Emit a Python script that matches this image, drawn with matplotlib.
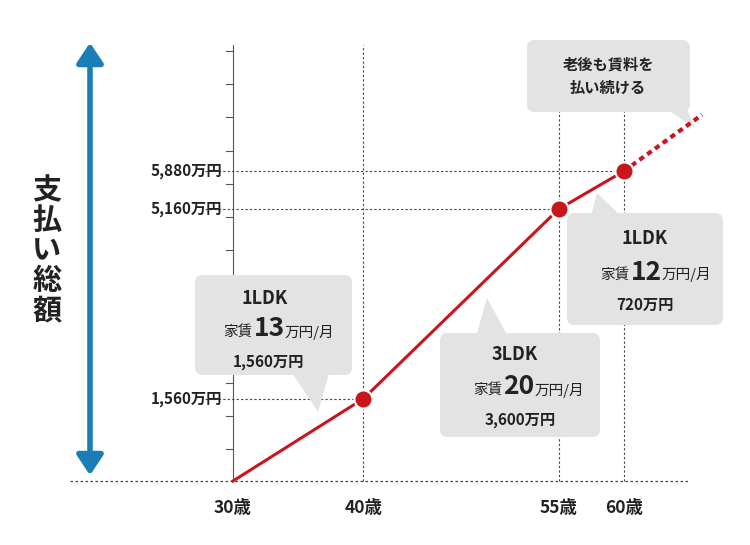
import matplotlib
matplotlib.use("Agg")
import matplotlib.pyplot as plt
from matplotlib.patches import FancyBboxPatch, Polygon, FancyArrowPatch

plt.rcParams['font.family'] = ['Noto Sans CJK JP', 'DejaVu Sans']

# --- Daten ---
ages = [30, 40, 55, 60]
totals = [0, 1560, 5160, 5880]          # 万円
future_age = 66
future_total = 6950
age_labels = ["30歳", "40歳", "55歳", "60歳"]
total_labels = ["1,560万円", "5,160万円", "5,880万円"]

RED = "#c8161d"
BOX = "#e3e3e3"
BLUE = "#1a7db5"

W, H = 750, 545
fig = plt.figure(figsize=(W / 100, H / 100), dpi=100)
ax = fig.add_axes([0, 0, 1, 1])
ax.set_xlim(12.12, 69.68)
ax.set_ylim(-1214, 9127)
ax.axis("off")


def px(x):
    return 12.12 + x / W * (69.68 - 12.12)


def py(y):
    return 9127 - y / H * (9127 + 1214)


# Achsen
ax.plot([30, 30], [0, py(45)], color="#555", lw=0.8)
ax.plot([px(70), px(690)], [0, 0], color="#444", lw=0.9, ls=(0, (2, 2)))
for t in range(600, 8500, 630):
    ax.plot([px(226), 30], [t, t], color="#555", lw=0.8)

# Hilfslinien
for a in ages[1:]:
    ax.plot([a, a], [0, py(45)], color="#444", lw=0.8, ls=(0, (2, 2)))
for a, v in zip(ages[1:], totals[1:]):
    ax.plot([px(205), a], [v, v], color="#444", lw=0.8, ls=(0, (2, 2)))

for v, lab in zip(totals[1:], total_labels):
    ax.text(px(222), v, lab, ha="right", va="center", fontsize=11, fontweight="bold", color="#222")
for a, lab in zip(ages, age_labels):
    ax.text(a, py(508), lab, ha="center", va="center", fontsize=12.5, fontweight="bold", color="#222")

# Linie
ax.plot(ages, totals, color=RED, lw=2.2, zorder=5)
ax.plot([ages[-1], future_age], [totals[-1], future_total], color=RED, lw=3, ls=(0, (1.3, 1)), zorder=5)
ax.scatter(ages[1:], totals[1:], s=170, color=RED, edgecolor="white", lw=1.5, zorder=6)

# linker Pfeil + Beschriftung
ax.add_patch(FancyArrowPatch((px(90), py(478)), (px(90), py(40)), arrowstyle="<|-|>,head_width=8,head_length=12",
                             color=BLUE, lw=4, mutation_scale=1))
ax.text(px(47), py(250), "支\n払\nい\n総\n額", ha="center", va="center", fontsize=21, fontweight="bold",
        color="#222", linespacing=1.0)


def callout(x0, y0, x1, y1, tri):
    ax.add_patch(FancyBboxPatch((px(x0), py(y1)), px(x1) - px(x0), py(y0) - py(y1),
                                boxstyle="round,pad=0,rounding_size=0.6", fc=BOX, ec="none", zorder=3,
                                mutation_aspect=(py(0) - py(1)) / (px(1) - px(0))))
    ax.add_patch(Polygon([(px(a), py(b)) for a, b in tri], closed=True, fc=BOX, ec="none", zorder=3))


def rent_line(cx, y, num):
    ax.text(px(cx - 22), py(y + 3), "家賃", ha="right", va="center", fontsize=10.5, color="#222", zorder=4)
    ax.text(px(cx - 6), py(y), num, ha="center", va="center", fontsize=19, fontweight="bold", color="#222", zorder=4)
    ax.text(px(cx + 10), py(y + 3), "万円/月", ha="left", va="center", fontsize=10.5, color="#222", zorder=4)


def label(x, y, s, size=11):
    ax.text(px(x), py(y), s, ha="center", va="center", fontsize=size, fontweight="bold", color="#222", zorder=4)


callout(195, 275, 352, 375, [(290, 370), (330, 370), (318, 412)])
label(265, 298, "1LDK", 13)
rent_line(275, 329, "13")
label(268, 362, "1,560万円")

callout(440, 333, 600, 437, [(475, 340), (510, 340), (487, 298)])
label(515, 355, "3LDK", 13)
rent_line(525, 387, "20")
label(520, 420, "3,600万円")

callout(567, 213, 723, 325, [(590, 220), (625, 220), (597, 193)])
label(645, 238, "1LDK", 13)
rent_line(652, 272, "12")
label(645, 305, "720万円")

callout(527, 40, 690, 112, [(660, 105), (685, 105), (695, 128)])
ax.text(px(608), py(76), "老後も賃料を\n払い続ける", ha="center", va="center", fontsize=11, fontweight="bold",
        color="#222", zorder=4, linespacing=1.6)

fig.savefig("out.png", dpi=100, facecolor="white")
